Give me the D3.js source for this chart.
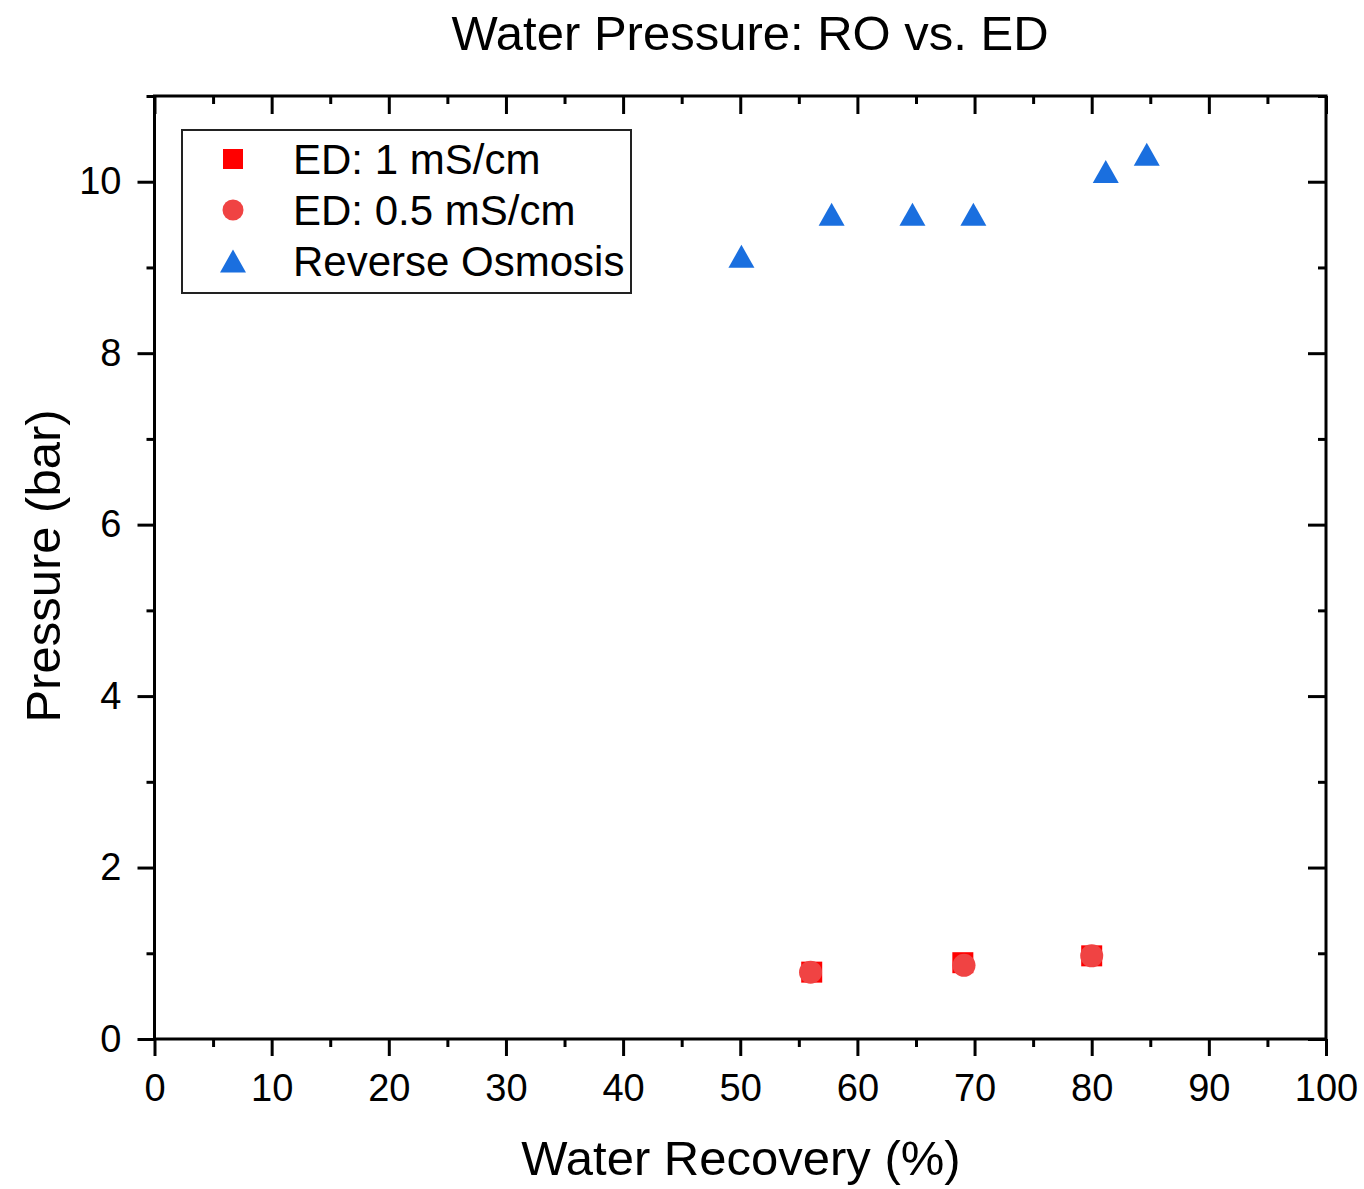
<!DOCTYPE html>
<html><head><meta charset="utf-8">
<script src="https://cdn.jsdelivr.net/npm/d3@7/dist/d3.min.js"></script>
<style>
body{margin:0;background:#fff;}
svg{display:block;font-family:"Liberation Sans",Arial,sans-serif;}
</style></head>
<body>
<svg id="chart" width="1364" height="1189"></svg>
<script>
const titleText = "Water Pressure: RO vs. ED";
const xLabel = "Water Recovery (%)";
const yLabel = "Pressure (bar)";
const seriesNames = ["ED: 1 mS/cm", "ED: 0.5 mS/cm", "Reverse Osmosis"];
const edHighX = [56.1, 69.0, 80.0];
const edHighY = [0.78, 0.89, 0.97];
const edLowX = [56.0, 69.1, 80.0];
const edLowY = [0.78, 0.86, 0.97];
const roX = [50.1, 57.8, 64.7, 69.9, 81.2, 84.7];
const roY = [9.13, 9.62, 9.62, 9.62, 10.12, 10.32];
const xMajor = [0,10,20,30,40,50,60,70,80,90,100];
const xMinor = [5,15,25,35,45,55,65,75,85,95];
const yMajor = [0,2,4,6,8,10];
const yMinor = [1,3,5,7,9,11];

const svg = d3.select("#chart");
const L = 154.5, R = 1326, T = 96, B = 1039;
const x = d3.scaleLinear().domain([0,100]).range([L,R]);
const y = d3.scaleLinear().domain([0,11]).range([B,T]);
const colors = ["#ff0000", "#f04343", "#1a6fdf"];

function styleAxis(g){
  g.select(".domain").remove();
  g.selectAll(".tick line").attr("stroke","#000").attr("stroke-width",3);
  g.selectAll(".tick text").attr("fill","#000").style("font-size","38px")
   .style("font-family","'Liberation Sans',Arial,sans-serif");
}
// bottom
svg.append("g").attr("transform",`translate(0,${B})`)
  .call(d3.axisBottom(x).tickValues(xMajor).tickSize(17).tickPadding(18).tickFormat(d3.format("d")))
  .call(styleAxis).selectAll(".tick text").attr("dy","0.71em");
svg.append("g").attr("transform",`translate(0,${B})`)
  .call(d3.axisBottom(x).tickValues(xMinor).tickSize(8).tickFormat(""))
  .call(styleAxis);
// top (inward)
svg.append("g").attr("transform",`translate(0,${T})`)
  .call(d3.axisTop(x).tickValues(xMajor).tickSize(-18).tickFormat(""))
  .call(styleAxis);
svg.append("g").attr("transform",`translate(0,${T})`)
  .call(d3.axisTop(x).tickValues(xMinor).tickSize(-8).tickFormat(""))
  .call(styleAxis);
// left
svg.append("g").attr("transform",`translate(${L},0)`)
  .call(d3.axisLeft(y).tickValues(yMajor).tickSize(17).tickPadding(16).tickFormat(d3.format("d")))
  .call(styleAxis);
svg.append("g").attr("transform",`translate(${L},0)`)
  .call(d3.axisLeft(y).tickValues(yMinor).tickSize(8).tickFormat(""))
  .call(styleAxis);
// right (inward)
svg.append("g").attr("transform",`translate(${R},0)`)
  .call(d3.axisRight(y).tickValues(yMajor).tickSize(-18).tickFormat(""))
  .call(styleAxis);
svg.append("g").attr("transform",`translate(${R},0)`)
  .call(d3.axisRight(y).tickValues(yMinor).tickSize(-8).tickFormat(""))
  .call(styleAxis);

// frame
svg.append("rect").attr("x",L).attr("y",T).attr("width",R-L).attr("height",B-T)
  .attr("fill","none").attr("stroke","#000").attr("stroke-width",3);

// markers
function triPath(w,h){return `M0,${-h/2}L${w/2},${h/2}L${-w/2},${h/2}Z`;}
const sq = 21, circR = 11.5, triW = 26, triH = 23;

svg.append("g").selectAll("rect").data(edHighX.map((v,i)=>[v,edHighY[i]])).join("rect")
  .attr("x",d=>x(d[0])-sq/2).attr("y",d=>y(d[1])-sq/2).attr("width",sq).attr("height",sq)
  .attr("fill",colors[0]);
svg.append("g").selectAll("circle").data(edLowX.map((v,i)=>[v,edLowY[i]])).join("circle")
  .attr("cx",d=>x(d[0])).attr("cy",d=>y(d[1])).attr("r",circR)
  .attr("fill",colors[1]);
svg.append("g").selectAll("path").data(roX.map((v,i)=>[v,roY[i]])).join("path")
  .attr("d",triPath(triW,triH))
  .attr("transform",d=>`translate(${x(d[0])},${y(d[1])})`)
  .attr("fill",colors[2]);

// legend
const lg = svg.append("g");
lg.append("rect").attr("x",182).attr("y",130).attr("width",449).attr("height",163)
  .attr("fill","#fff").attr("stroke","#222").attr("stroke-width",2);
const rowY = [159, 210, 261];
const symX = 233;
lg.append("rect").attr("x",symX-10).attr("y",rowY[0]-10).attr("width",20).attr("height",20).attr("fill",colors[0]);
lg.append("circle").attr("cx",symX).attr("cy",rowY[1]).attr("r",10.5).attr("fill",colors[1]);
lg.append("path").attr("d",triPath(26,23)).attr("transform",`translate(${symX},${rowY[2]})`).attr("fill",colors[2]);
lg.selectAll("text").data(seriesNames).join("text")
  .attr("x",293).attr("y",(d,i)=>rowY[i]+15)
  .style("font-size","42px").attr("fill","#000").text(d=>d);

// titles
svg.append("text").attr("x",750).attr("y",50).attr("text-anchor","middle")
  .style("font-size","49px").attr("fill","#000").text(titleText);
svg.append("text").attr("x",741).attr("y",1175).attr("text-anchor","middle")
  .style("font-size","49px").attr("fill","#000").text(xLabel);
svg.append("text").attr("transform","translate(60,566) rotate(-90)").attr("text-anchor","middle")
  .style("font-size","49px").attr("fill","#000").text(yLabel);
</script>
</body></html>
